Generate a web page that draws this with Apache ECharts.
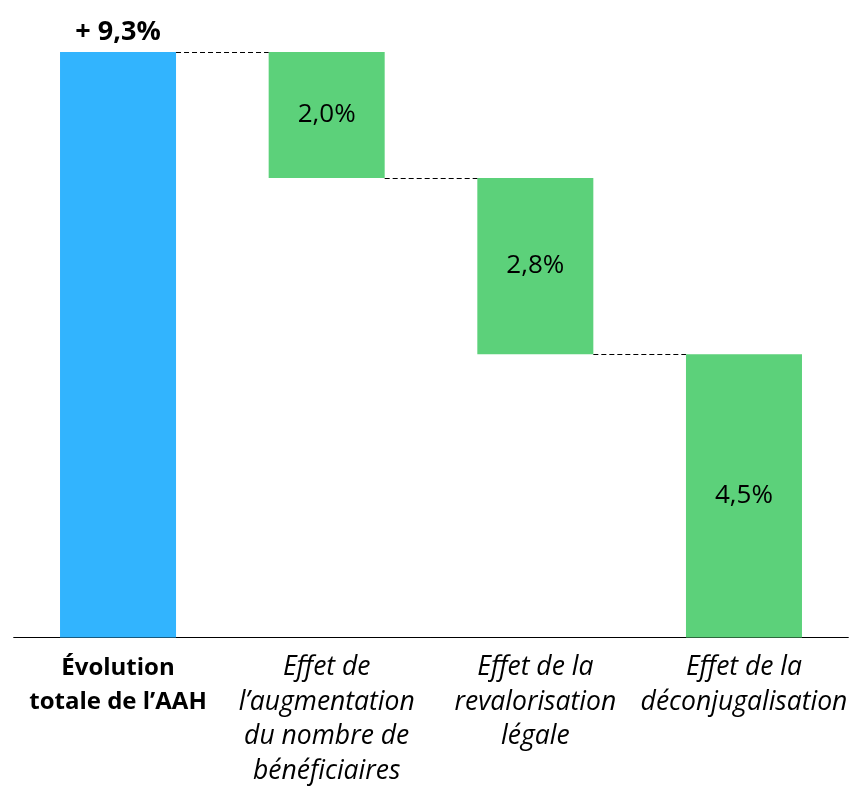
<!DOCTYPE html>
<html><head><meta charset="utf-8">
<script src="https://cdn.jsdelivr.net/npm/echarts@6/dist/echarts.min.js"></script>
<style>html,body{margin:0;padding:0;background:#fff}#c{width:867px;height:805px}</style>
</head><body><div id="c"></div>
<script>
const categories = [
  "Évolution\ntotale de l’AAH",
  "Effet de\nl’augmentation\ndu nombre de\nbénéficiaires",
  "Effet de la\nrevalorisation\nlégale",
  "Effet de la\ndéconjugalisation"
];
const values = [9.3, 2.0, 2.8, 4.5];
const isTotal = [true, false, false, false];

// base (invisible) part of the waterfall: total minus cumulative effects
const bases = [];
let level = values[0];
values.forEach((v, i) => {
  if (isTotal[i]) { bases.push(0); level = v; }
  else { level -= v; bases.push(level); }
});
// connector levels: top of each effect bar
const tops = values.map((v, i) => bases[i] + v);

const fmt = v => v.toFixed(1).replace('.', ',') + '%';
const FONT = '"Open Sans", Lato, sans-serif';
const BAR = 0.556;

const chart = echarts.init(document.getElementById('c'), null, {renderer: 'canvas'});
chart.setOption({
  animation: false,
  grid: {left: 13.7, right: 18.7, top: 52, bottom: 167.5},
  xAxis: {
    type: 'category', data: categories,
    axisLine: {lineStyle: {color: '#000', width: 1}},
    axisTick: {show: false},
    axisLabel: {
      interval: 0, margin: 13,
      formatter: (val, idx) => val.split('\n').map(l => (idx === 0 ? '{b|' : '{i|') + l + '}').join('\n'),
      rich: {
        b: {fontFamily: FONT, fontSize: 24, fontWeight: 'bold', color: '#000', lineHeight: 34.5},
        i: {fontFamily: FONT, fontSize: 26.5, fontStyle: 'italic', color: '#000', lineHeight: 34.5}
      }
    }
  },
  yAxis: {type: 'value', min: 0, max: 9.3, show: false, splitLine: {show: false}},
  series: [
    {
      type: 'bar', stack: 'w', barWidth: (BAR * 100) + '%', silent: true,
      itemStyle: {color: 'transparent'}, data: bases
    },
    {
      type: 'bar', stack: 'w', barWidth: (BAR * 100) + '%',
      data: values.map((v, i) => ({
        value: v,
        itemStyle: {color: isTotal[i] ? '#32B4FE' : '#5CD17A'},
        label: isTotal[i]
          ? {show: true, position: 'top', distance: 6, formatter: '+ ' + fmt(v),
             fontFamily: FONT, fontSize: 27, fontWeight: 'bold', color: '#000'}
          : {show: true, position: 'inside', formatter: fmt(v),
             fontFamily: FONT, fontSize: 26, color: '#000'}
      }))
    },
    {
      type: 'custom', silent: true, z: 5,
      data: tops.slice(1).map((t, i) => [i, t]),
      renderItem: (params, api) => {
        const i = api.value(0), y = api.value(1);
        const p0 = api.coord([i, y]);
        const p1 = api.coord([i + 1, y]);
        const bw = api.size([1, 0])[0] * BAR / 2;
        return {
          type: 'line',
          shape: {x1: p0[0] + bw, y1: Math.round(p0[1]) + 0.5, x2: p1[0] - bw, y2: Math.round(p0[1]) + 0.5},
          style: {stroke: '#000', lineWidth: 1, lineDash: [5, 3]}
        };
      }
    }
  ]
});
</script></body></html>
